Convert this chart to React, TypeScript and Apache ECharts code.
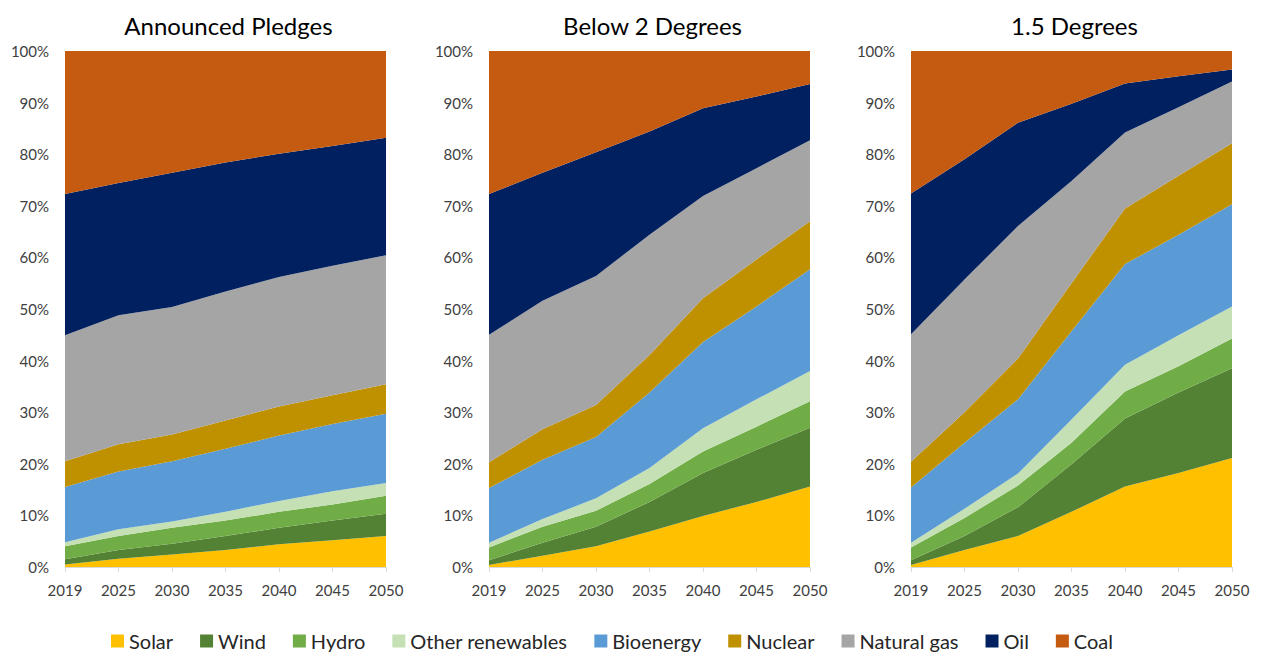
import React, { useEffect, useRef } from "react";
import * as echarts from "echarts";

const years = ["2019", "2025", "2030", "2035", "2040", "2045", "2050"];
const seriesNames = ["Solar", "Wind", "Hydro", "Other renewables", "Bioenergy", "Nuclear", "Natural gas", "Oil", "Coal"];
const colors = ["#FFC000", "#548235", "#70AD47", "#C5E0B4", "#5B9BD5", "#BF9000", "#A5A5A5", "#002060", "#C55A11"];
const panelTitles = ["Announced Pledges", "Below 2 Degrees", "1.5 Degrees"];
const yTicks = [0, 10, 20, 30, 40, 50, 60, 70, 80, 90, 100];

// Announced Pledges (% share)
const apSolar = [0.5, 1.6, 2.4, 3.3, 4.4, 5.2, 6.0];
const apWind = [1.0, 1.7, 2.1, 2.7, 3.2, 3.8, 4.3];
const apHydro = [2.5, 2.7, 3.1, 3.0, 3.1, 3.1, 3.5];
const apOther = [0.8, 1.3, 1.2, 1.7, 2.1, 2.6, 2.5];
const apBio = [10.7, 11.2, 11.7, 12.2, 12.7, 13.0, 13.4];
const apNuclear = [5.0, 5.3, 5.2, 5.5, 5.6, 5.6, 5.7];
const apGas = [24.4, 25.0, 24.7, 25.0, 25.1, 25.1, 25.0];
const apOil = [27.4, 25.6, 26.0, 25.0, 23.9, 23.2, 22.8];
const apCoal = [27.7, 25.6, 23.6, 21.6, 19.9, 18.4, 16.8];

// Below 2 Degrees
const b2Solar = [0.4, 2.2, 4.0, 6.9, 9.9, 12.6, 15.6];
const b2Wind = [0.9, 2.5, 3.8, 5.7, 8.3, 10.1, 11.4];
const b2Hydro = [2.5, 3.1, 3.1, 3.5, 4.2, 4.5, 5.1];
const b2Other = [0.9, 1.5, 2.4, 3.1, 4.5, 5.3, 5.9];
const b2Bio = [10.6, 11.5, 11.9, 14.6, 16.7, 18.0, 19.7];
const b2Nuclear = [5.0, 5.9, 6.2, 7.3, 8.5, 9.1, 9.3];
const b2Gas = [24.7, 24.9, 25.0, 23.3, 19.8, 17.7, 15.7];
const b2Oil = [27.3, 24.8, 24.0, 20.0, 17.0, 13.9, 10.9];
const b2Coal = [27.7, 23.6, 19.6, 15.6, 11.1, 8.8, 6.4];

// 1.5 Degrees
const d15Solar = [0.4, 3.3, 6.0, 10.7, 15.6, 18.2, 21.1];
const d15Wind = [0.9, 2.7, 5.6, 9.2, 13.2, 15.6, 17.4];
const d15Hydro = [2.5, 3.5, 4.2, 4.2, 5.2, 5.1, 5.8];
const d15Other = [0.9, 1.8, 2.3, 4.5, 5.2, 6.0, 6.2];
const d15Bio = [10.7, 12.8, 14.4, 17.1, 19.5, 19.5, 19.8];
const d15Nuclear = [5.0, 5.9, 7.9, 9.3, 10.8, 11.4, 11.8];
const d15Gas = [24.7, 25.7, 25.7, 19.8, 14.7, 13.3, 12.0];
const d15Oil = [27.3, 23.3, 20.0, 15.0, 9.5, 6.0, 2.3];
const d15Coal = [27.6, 21.0, 13.9, 10.2, 6.3, 4.9, 3.6];

const panels = [
  [apSolar, apWind, apHydro, apOther, apBio, apNuclear, apGas, apOil, apCoal],
  [b2Solar, b2Wind, b2Hydro, b2Other, b2Bio, b2Nuclear, b2Gas, b2Oil, b2Coal],
  [d15Solar, d15Wind, d15Hydro, d15Other, d15Bio, d15Nuclear, d15Gas, d15Oil, d15Coal],
];

const FONT = "Lato, 'Open Sans', sans-serif";
const gridLefts = [65, 489, 911];
const gridWidth = 321;

export default function App() {
  const ref = useRef<HTMLDivElement>(null);
  useEffect(() => {
    if (!ref.current) return;
    const chart = echarts.init(ref.current, undefined, { renderer: "svg" });
    const grids = gridLefts.map((l) => ({ left: l, width: gridWidth, top: 51, bottom: 89 }));
    const xAxes = gridLefts.map((_, i) => ({
      type: "category",
      gridIndex: i,
      data: years,
      boundaryGap: false,
      axisLine: { show: true, lineStyle: { color: "#D9D9D9", width: 1 } },
      axisTick: { show: true, length: 5, alignWithLabel: true, lineStyle: { color: "#D9D9D9" } },
      axisLabel: { interval: 0, margin: 15, color: "#404040", fontSize: 15, fontFamily: FONT },
      splitLine: { show: false },
    }));
    const yAxes = gridLefts.map((_, i) => ({
      type: "value",
      gridIndex: i,
      min: yTicks[0],
      max: yTicks[yTicks.length - 1],
      interval: 10,
      axisLine: { show: false },
      axisTick: { show: false },
      splitLine: { show: false },
      axisLabel: { formatter: "{value}%", margin: 16, color: "#404040", fontSize: 15, fontFamily: FONT },
    }));
    const series: any[] = [];
    panels.forEach((panel, pi) => {
      panel.forEach((vals, si) => {
        series.push({
          type: "line",
          name: seriesNames[si],
          xAxisIndex: pi,
          yAxisIndex: pi,
          stack: "p" + pi,
          data: vals,
          showSymbol: false,
          symbol: "none",
          lineStyle: { width: 0 },
          itemStyle: { color: colors[si] },
          areaStyle: { color: colors[si], opacity: 1 },
          z: 2,
        });
      });
    });
    chart.setOption({
      animation: false,
      backgroundColor: "#ffffff",
      title: panelTitles.map((t, i) => ({
        text: t,
        left: gridLefts[i] + gridWidth / 2 - 2,
        textAlign: "center",
        top: 8,
        textStyle: { fontSize: 24, fontWeight: "normal", color: "#000000", fontFamily: FONT },
      })),
      legend: {
        data: seriesNames,
        bottom: 0,
        left: 106,
        icon: "rect",
        itemWidth: 13,
        itemHeight: 13,
        itemGap: 27,
        textStyle: { fontSize: 20, color: "#262626", fontFamily: FONT },
      },
      grid: grids,
      xAxis: xAxes,
      yAxis: yAxes,
      series,
    });
    return () => chart.dispose();
  }, []);
  return <div ref={ref} style={{ position: "fixed", left: 0, top: 0, width: 1262, height: 656 }} />;
}
